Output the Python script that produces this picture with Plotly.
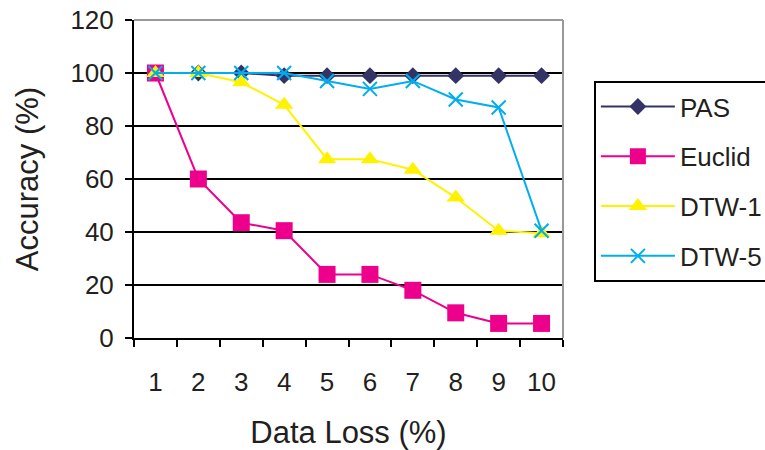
import plotly.graph_objects as go

categories = ["1", "2", "3", "4", "5", "6", "7", "8", "9", "10"]
pas = [100, 100, 100, 99, 99, 99, 99, 99, 99, 99]
euclid = [100, 60, 43.5, 40.5, 24, 24, 18, 9.5, 5.5, 5.5]
dtw1 = [100, 100, 96.5, 88, 67.5, 67.5, 63.5, 53, 40.5, 39.5]
dtw5 = [100, 100, 100, 100, 97, 94, 97, 90, 87, 40.5]
y_ticks = [0, 20, 40, 60, 80, 100, 120]

FONT = "Liberation Sans, Arial, sans-serif"
FS = 26

fig = go.Figure()
series = [
    ("PAS", pas, "#333366", dict(symbol="diamond", size=13, color="#333366")),
    ("Euclid", euclid, "#EC008C", dict(symbol="square", size=17, color="#EC008C")),
    ("DTW-1", dtw1, "#FFF200", dict(symbol="triangle-up", size=16, color="#FFF200")),
    ("DTW-5", dtw5, "#00AEEF", dict(symbol="x-thin", size=14, color="#00AEEF",
                                     line=dict(width=2, color="#00AEEF"))),
]
for i, (name, vals, col, mk) in enumerate(series):
    fig.add_trace(go.Scatter(
        x=categories, y=vals, name=name, mode="lines+markers",
        line=dict(color=col, width=2), marker=mk, legendgroup=str(i),
    ))

fig.update_layout(
    width=765, height=450,
    margin=dict(l=134, r=202, t=20, b=112, autoexpand=False),
    paper_bgcolor="white", plot_bgcolor="white",
    font=dict(family=FONT, size=FS, color="#231F20"),
    showlegend=True,
    legend=dict(
        x=1.072, xanchor="left", y=0.808, yanchor="top",
        bordercolor="black", borderwidth=2, bgcolor="white",
        font=dict(family=FONT, size=FS, color="#231F20"),
        itemwidth=74, tracegroupgap=13,
    ),
    xaxis=dict(
        type="category", tickson="boundaries", ticks="outside", ticklen=7,
        tickwidth=1.5, tickcolor="black", showline=True, linecolor="black",
        linewidth=2, showgrid=False, ticklabelstandoff=20,
        title=dict(text="Data Loss (%)", standoff=28),
        range=[-0.5, 9.5],
    ),
    yaxis=dict(
        range=[0, 120], tickvals=y_ticks, ticks="outside", ticklen=7,
        tickwidth=1.5, tickcolor="black", showline=True, linecolor="black",
        linewidth=2, showgrid=True, gridcolor="black", gridwidth=1.5,
        zeroline=False, ticklabelstandoff=6,
        title=dict(text="Accuracy (%)", standoff=23),
    ),
    shapes=[
        dict(type="line", xref="paper", yref="paper", x0=0, x1=1, y0=1, y1=1,
             line=dict(color="#999999", width=2), layer="above"),
        dict(type="line", xref="paper", yref="paper", x0=1, x1=1, y0=0, y1=1,
             line=dict(color="#999999", width=2), layer="above"),
    ],
)

fig.write_html("out.html")
